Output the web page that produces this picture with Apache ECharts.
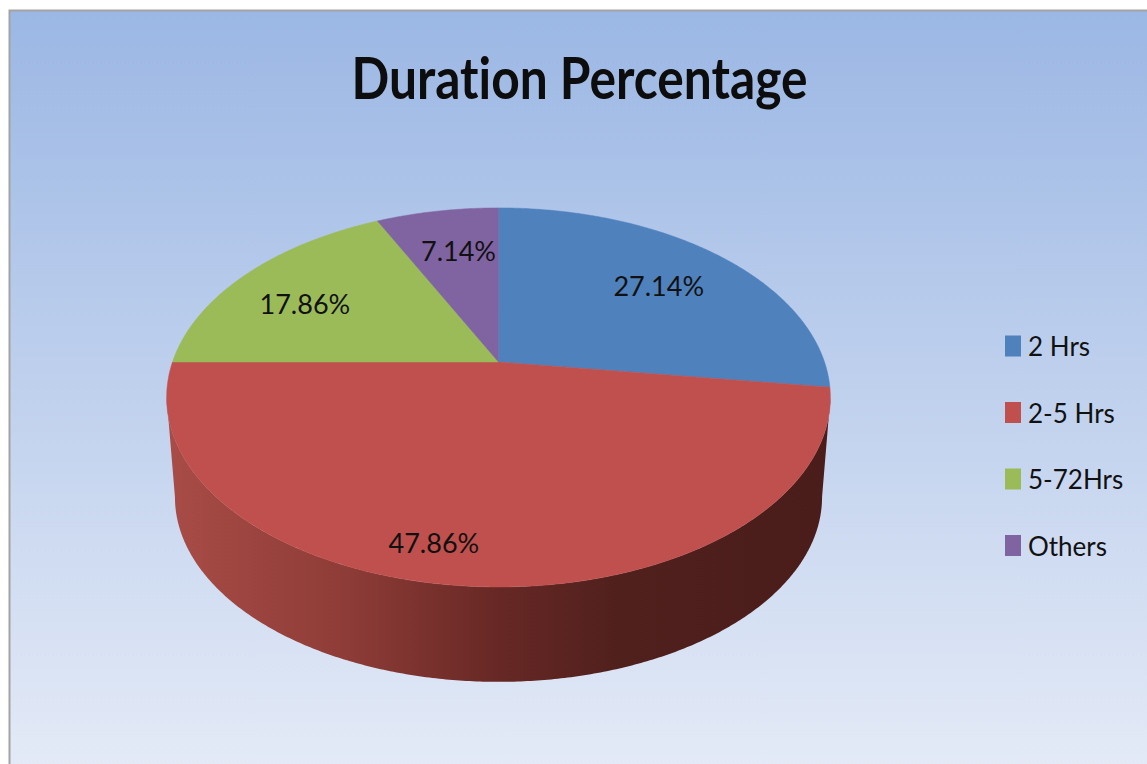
<!DOCTYPE html>
<html>
<head>
<meta charset="utf-8">
<style>
html,body{margin:0;padding:0;background:#fff}
#chart{width:1147px;height:764px}
#chart text{font-variant-ligatures:none !important}
</style>
<script src="https://cdn.jsdelivr.net/npm/echarts@6/dist/echarts.min.js"></script>
</head>
<body>
<div id="chart"></div>
<script>
// Duration shares, in percent
const categories = ['2 Hrs', '2-5 Hrs', '5-72Hrs', 'Others'];
const shares = [27.14, 47.86, 17.86, 7.14];
const sliceColors = ['#4f81bd', '#c0504d', '#9bbb59', '#8064a2'];
const chartTitle = 'Duration Percentage';

// Tilted disc: a unit circle seen in perspective
const disc = { cx: 498.5, cy: 362, rx: 326, ry: 182.9, tilt: 0.187 };
const rim = { scale: 0.975, cy: 462.5 };
const labelRadius = 0.7;
const labelNudge = [[2, 1], [-47, 34], [-13, 5], [5, -1]];
const textFont = 'Lato, "Open Sans", sans-serif';

// Maps a point of the unit disc onto the screen
function project(u, v, scale, cy) {
  const w = 1 + disc.tilt * v;
  return [disc.cx + scale * disc.rx * u / w, cy - scale * disc.ry * v / w];
}
// Clockwise angle from twelve o'clock
function onCircle(deg, r, scale, cy) {
  const a = deg * Math.PI / 180;
  return project(r * Math.sin(a), r * Math.cos(a), scale, cy);
}
function arc(from, to, scale, cy) {
  const pts = [];
  const steps = Math.max(2, Math.ceil(Math.abs(to - from) * 2));
  for (let i = 0; i <= steps; i++) {
    pts.push(onCircle(from + (to - from) * i / steps, 1, scale, cy));
  }
  return pts;
}

// The front of the cylinder is visible between the two horizontal extremes
const sideFrom = 90 + Math.asin(disc.tilt) * 180 / Math.PI;
const sideTo = 360 - sideFrom;
const wallShade = new echarts.graphic.LinearGradient(0, 0, 1, 0, [
  { offset: 0, color: '#a94c47' },
  { offset: 0.27, color: '#8e3c37' },
  { offset: 0.5, color: '#672825' },
  { offset: 0.68, color: '#50201d' },
  { offset: 1, color: '#4a1d1a' }
]);

function renderSlice(params, api) {
  const index = params.seriesIndex;
  const value = api.value(0);
  const total = shares.reduce((a, b) => a + b, 0);
  const before = shares.slice(0, index).reduce((a, b) => a + b, 0);
  const start = before / total * 360;
  const end = start + value / total * 360;
  const children = [];

  const wallStart = Math.max(start, sideFrom);
  const wallEnd = Math.min(end, sideTo);
  if (wallEnd > wallStart) {
    children.push({
      type: 'polygon',
      shape: {
        points: arc(wallStart, wallEnd, 1, disc.cy)
          .concat(arc(wallEnd, wallStart, rim.scale, rim.cy))
      },
      style: { fill: wallShade }
    });
  }

  children.push({
    type: 'polygon',
    shape: { points: [[disc.cx, disc.cy]].concat(arc(start, end, 1, disc.cy)) },
    style: { fill: sliceColors[index], stroke: sliceColors[index], lineWidth: 0.5 }
  });

  const mid = onCircle((start + end) / 2, labelRadius, 1, disc.cy);
  children.push({
    type: 'text',
    z2: 10,
    style: {
      text: value.toFixed(2) + '%',
      x: mid[0] + labelNudge[index][0],
      y: mid[1] + labelNudge[index][1],
      align: 'center',
      verticalAlign: 'middle',
      fill: '#111',
      font: '27px ' + textFont
    }
  });
  return { type: 'group', children };
}

const chart = echarts.init(document.getElementById('chart'), null, { renderer: 'svg' });
chart.setOption({
  animation: false,
  backgroundColor: '#ffffff',
  graphic: [{
    type: 'rect',
    z: 0,
    shape: { x: 9.5, y: 10.5, width: 1150, height: 770 },
    style: {
      stroke: '#a3a3a3',
      lineWidth: 2,
      fill: new echarts.graphic.LinearGradient(0, 0, 0, 1, [
        { offset: 0, color: '#9bb7e4' },
        { offset: 1, color: '#e5ebf7' }
      ])
    }
  }, {
    // Title is squeezed sideways to get its tall, narrow look
    type: 'text',
    z: 5,
    x: 579.5,
    y: 77,
    scaleX: 0.857,
    style: {
      text: chartTitle,
      align: 'center',
      verticalAlign: 'middle',
      fill: '#0d0d0d',
      font: 'bold 58px ' + textFont
    }
  }],
  legend: {
    data: categories,
    orient: 'vertical',
    left: 1000,
    top: 328,
    icon: 'rect',
    itemWidth: 16,
    itemHeight: 21,
    itemGap: 40.5,
    selectedMode: false,
    textStyle: { fontFamily: textFont, fontSize: 26, color: '#111', padding: [0, 0, 0, 2] }
  },
  series: categories.map((name, i) => ({
    type: 'custom',
    name,
    coordinateSystem: 'none',
    silent: true,
    itemStyle: { color: sliceColors[i] },
    renderItem: renderSlice,
    data: [[shares[i]]]
  }))
});
</script>
</body>
</html>
